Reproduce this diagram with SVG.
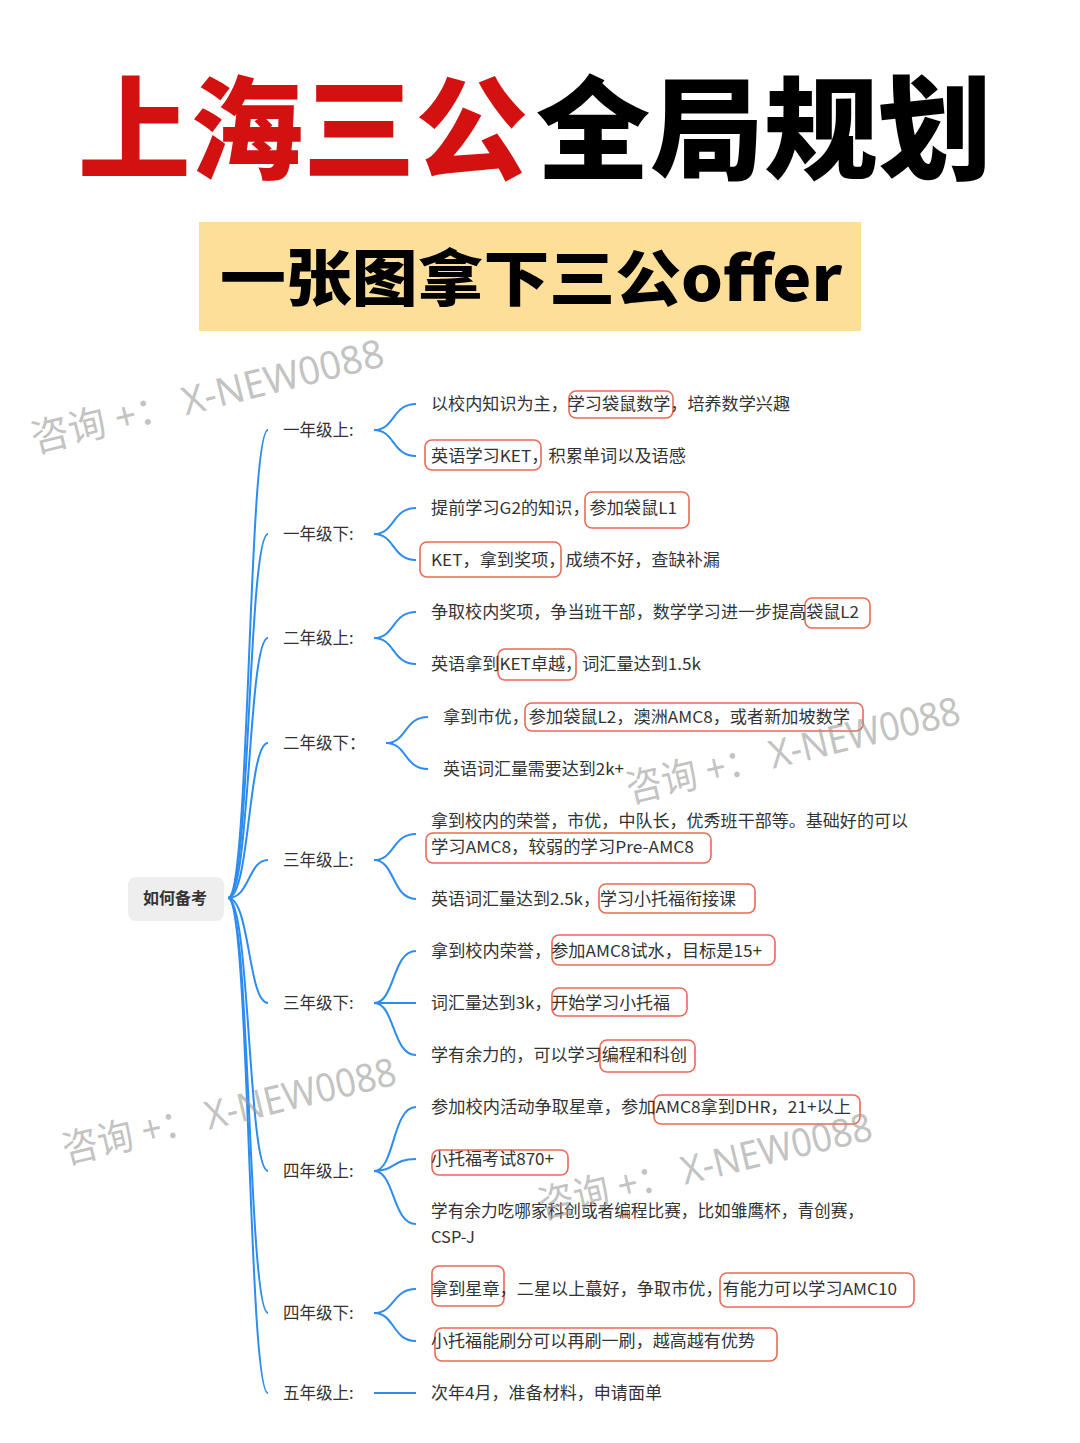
<svg xmlns="http://www.w3.org/2000/svg" width="1080" height="1443" viewBox="0 0 1080 1443">
<style>
.t{font-family:"Noto Sans CJK SC","Noto Sans",sans-serif;font-size:16.5px;fill:#333}
.lv{font-family:"Noto Sans CJK SC","Noto Sans",sans-serif;font-size:16.5px;fill:#333}
.hl{fill:none;stroke:#ea6a56;stroke-width:1.6}
.c{fill:none;stroke:#2d8cf0;stroke-width:2}
.wm{font-family:"Noto Sans","Noto Sans CJK SC",sans-serif;font-size:39px;fill:#9a9a9a;fill-opacity:0.6}
</style>
<rect width="1080" height="1443" fill="#ffffff"/>
<g id="title">
<text x="78" y="171" font-family="'Noto Sans CJK SC',sans-serif" font-size="112" font-weight="900" fill="#d41111" textLength="450" lengthAdjust="spacingAndGlyphs">上海三公</text>
<text x="536" y="171" font-family="'Noto Sans CJK SC',sans-serif" font-size="112" font-weight="900" fill="#000000" textLength="456" lengthAdjust="spacingAndGlyphs">全局规划</text>
</g>
<g id="subtitle">
<rect x="199" y="222" width="662" height="109" fill="#fddf99"/>
<text x="220" y="301" font-family="'Noto Sans CJK SC',sans-serif" font-size="61" font-weight="900" fill="#000" textLength="622" lengthAdjust="spacingAndGlyphs">一张图拿下三公offer</text>
</g>
<g id="connectors">
<path class="c" d="M228,898 C250,898 248,430 268,430"/>
<path class="c" d="M228,898 C250,898 248,534 268,534"/>
<path class="c" d="M228,898 C250,898 248,638 268,638"/>
<path class="c" d="M228,898 C250,898 248,743 268,743"/>
<path class="c" d="M228,898 C250,898 248,860 268,860"/>
<path class="c" d="M228,898 C250,898 248,1003 268,1003"/>
<path class="c" d="M228,898 C250,898 248,1171 268,1171"/>
<path class="c" d="M228,898 C250,898 248,1313 268,1313"/>
<path class="c" d="M228,898 C250,898 248,1393 268,1393"/>
<path class="c" d="M374,430 C395,430 392,404 416,404 M374,430 C395,430 392,456 416,456"/>
<path class="c" d="M374,534 C395,534 392,508 416,508 M374,534 C395,534 392,560 416,560"/>
<path class="c" d="M374,638 C395,638 392,612 416,612 M374,638 C395,638 392,664 416,664"/>
<path class="c" d="M386,743 C407,743 404,717 428,717 M386,743 C407,743 404,769 428,769"/>
<path class="c" d="M374,860 C395,860 392,834 416,834 M374,860 C395,860 392,899 416,899"/>
<path class="c" d="M374,1003 C395,1003 392,951 416,951 M374,1003 L416,1003 M374,1003 C395,1003 392,1055 416,1055"/>
<path class="c" d="M374,1171 C395,1171 392,1107 416,1107 M374,1171 C395,1171 392,1159 416,1159 M374,1171 C395,1171 392,1224 416,1224"/>
<path class="c" d="M374,1313 C395,1313 392,1289 416,1289 M374,1313 C395,1313 392,1341 416,1341"/>
<path class="c" d="M374,1393 L416,1393"/>
</g>
<g id="root">
<rect x="128" y="877" width="96" height="44" rx="8" fill="#eeeeee"/>
<text x="175" y="904" text-anchor="middle" font-family="'Noto Sans CJK SC',sans-serif" font-size="16" font-weight="700" fill="#333">如何备考</text>
</g>
<g id="levels">
<text class="lv" x="283" y="436">一年级上:</text>
<text class="lv" x="283" y="540">一年级下:</text>
<text class="lv" x="283" y="644">二年级上:</text>
<text class="lv" x="283" y="749">二年级下：</text>
<text class="lv" x="283" y="866">三年级上:</text>
<text class="lv" x="283" y="1009">三年级下:</text>
<text class="lv" x="283" y="1177">四年级上:</text>
<text class="lv" x="283" y="1319">四年级下:</text>
<text class="lv" x="283" y="1399">五年级上:</text>
</g>
<g id="g1a">
<rect class="hl" x="569" y="391" width="104" height="27" rx="7"/>
<text class="t" x="431" y="410" textLength="359" lengthAdjust="spacingAndGlyphs">以校内知识为主，学习袋鼠数学，培养数学兴趣</text>
<rect class="hl" x="425" y="440" width="116" height="30" rx="7"/>
<text class="t" x="431" y="462" textLength="255" lengthAdjust="spacingAndGlyphs">英语学习KET，积累单词以及语感</text>
</g>
<g id="g1b">
<rect class="hl" x="585" y="492" width="104" height="36" rx="7"/>
<text class="t" x="431" y="514" textLength="246" lengthAdjust="spacingAndGlyphs">提前学习G2的知识，参加袋鼠L1</text>
<rect class="hl" x="420" y="542" width="141" height="35" rx="7"/>
<text class="t" x="431" y="566" textLength="289" lengthAdjust="spacingAndGlyphs">KET，拿到奖项，成绩不好，查缺补漏</text>
</g>
<g id="g2a">
<rect class="hl" x="805" y="598" width="65" height="30" rx="7"/>
<text class="t" x="431" y="618" textLength="428" lengthAdjust="spacingAndGlyphs">争取校内奖项，争当班干部，数学学习进一步提高袋鼠L2</text>
<rect class="hl" x="498" y="649" width="78" height="31" rx="7"/>
<text class="t" x="431" y="670" textLength="270" lengthAdjust="spacingAndGlyphs">英语拿到KET卓越，词汇量达到1.5k</text>
</g>
<g id="g2b">
<rect class="hl" x="525" y="703" width="338" height="28" rx="7"/>
<text class="t" x="443" y="723" textLength="407" lengthAdjust="spacingAndGlyphs">拿到市优，参加袋鼠L2，澳洲AMC8，或者新加坡数学</text>
<text class="t" x="443" y="775" textLength="181" lengthAdjust="spacingAndGlyphs">英语词汇量需要达到2k+</text>
</g>
<g id="g3a">
<rect class="hl" x="426" y="833" width="285" height="30" rx="7"/>
<text class="t" x="431" y="827" textLength="477" lengthAdjust="spacingAndGlyphs">拿到校内的荣誉，市优，中队长，优秀班干部等。基础好的可以</text>
<text class="t" x="431" y="853" textLength="263" lengthAdjust="spacingAndGlyphs">学习AMC8，较弱的学习Pre-AMC8</text>
<rect class="hl" x="599" y="884" width="156" height="29" rx="7"/>
<text class="t" x="431" y="905" textLength="305" lengthAdjust="spacingAndGlyphs">英语词汇量达到2.5k，学习小托福衔接课</text>
</g>
<g id="g3b">
<rect class="hl" x="552" y="935" width="223" height="30" rx="7"/>
<text class="t" x="431" y="957" textLength="331" lengthAdjust="spacingAndGlyphs">拿到校内荣誉，参加AMC8试水，目标是15+</text>
<rect class="hl" x="552" y="988" width="135" height="28" rx="7"/>
<text class="t" x="431" y="1009" textLength="239" lengthAdjust="spacingAndGlyphs">词汇量达到3k，开始学习小托福</text>
<rect class="hl" x="600" y="1040" width="95" height="32" rx="7"/>
<text class="t" x="431" y="1061" textLength="256" lengthAdjust="spacingAndGlyphs">学有余力的，可以学习编程和科创</text>
</g>
<g id="g4a">
<rect class="hl" x="654" y="1095" width="206" height="29" rx="7"/>
<text class="t" x="431" y="1113" textLength="420" lengthAdjust="spacingAndGlyphs">参加校内活动争取星章，参加AMC8拿到DHR，21+以上</text>
<rect class="hl" x="432" y="1150" width="136" height="25" rx="7"/>
<text class="t" x="431" y="1165" textLength="123" lengthAdjust="spacingAndGlyphs">小托福考试870+</text>
<text class="t" x="431" y="1217" textLength="433" lengthAdjust="spacingAndGlyphs">学有余力吃哪家科创或者编程比赛，比如雏鹰杯，青创赛，</text>
<text class="t" x="431" y="1243">CSP-J</text>
</g>
<g id="g4b">
<rect class="hl" x="432" y="1266" width="72" height="40" rx="7"/>
<rect class="hl" x="720" y="1273" width="194" height="34" rx="7"/>
<text class="t" x="431" y="1295" textLength="466" lengthAdjust="spacingAndGlyphs">拿到星章，二星以上蕞好，争取市优，有能力可以学习AMC10</text>
<rect class="hl" x="435" y="1328" width="342" height="33" rx="7"/>
<text class="t" x="431" y="1347" textLength="324" lengthAdjust="spacingAndGlyphs">小托福能刷分可以再刷一刷，越高越有优势</text>
</g>
<g id="g5a">
<text class="t" x="431" y="1399" textLength="231" lengthAdjust="spacingAndGlyphs">次年4月，准备材料，申请面单</text>
</g>
<g id="watermarks">
<text class="wm" transform="translate(35,453) rotate(-14)" textLength="362" lengthAdjust="spacingAndGlyphs">咨询 +： X-NEW0088</text>
<text class="wm" transform="translate(630,803) rotate(-13.5)" textLength="342" lengthAdjust="spacingAndGlyphs">咨询 +： X-NEW0088</text>
<text class="wm" transform="translate(66,1164) rotate(-13.5)" textLength="342" lengthAdjust="spacingAndGlyphs">咨询 +： X-NEW0088</text>
<text class="wm" transform="translate(542,1219) rotate(-13.5)" textLength="342" lengthAdjust="spacingAndGlyphs">咨询 +： X-NEW0088</text>
</g>
</svg>
